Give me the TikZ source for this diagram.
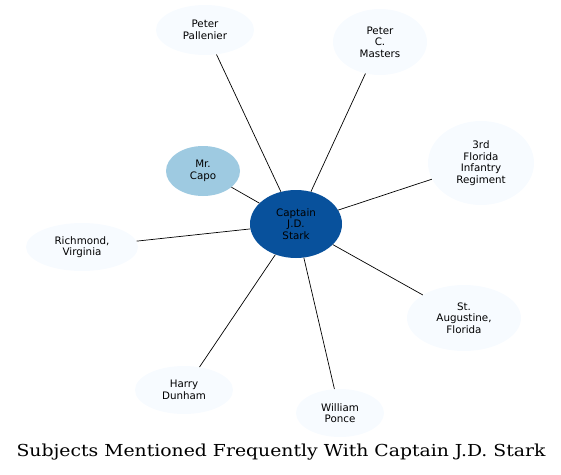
\documentclass[tikz,border=0pt]{standalone}
\usepackage{fontspec}
\setmainfont{DejaVu Sans}
\newfontfamily\titlefont{DejaVu Serif}
\usetikzlibrary{shapes.geometric}
\definecolor{pale}{HTML}{F7FBFF}
\definecolor{midblue}{HTML}{9ECAE1}
\definecolor{darkblue}{HTML}{08519C}
\tikzset{
  ent/.style={ellipse, fill=pale, inner sep=0pt, align=center, text=black,
    font=\fontsize{10.3}{11.6}\selectfont},
  link/.style={draw=black, line width=0.7pt}
}
\begin{document}
\begin{tikzpicture}[x=1pt,y=-1pt]
\useasboundingbox (0,0) rectangle (561,474);
\node[ent, fill=darkblue, minimum width=92pt, minimum height=68pt] (c) at (296,224) {Captain\\J.D.\\Stark};
\node[ent, minimum width=98pt, minimum height=50pt] (pp) at (205,30) {Peter\\Pallenier};
\node[ent, minimum width=94pt, minimum height=66pt] (pm) at (380,42) {Peter\\C.\\Masters};
\node[ent, minimum width=106pt, minimum height=84pt] (fl) at (481,163) {3rd\\Florida\\Infantry\\Regiment};
\node[ent, fill=midblue, minimum width=74pt, minimum height=50pt] (mc) at (203,171) {Mr.\\Capo};
\node[ent, minimum width=112pt, minimum height=48pt] (rv) at (82,247) {Richmond,\\Virginia};
\node[ent, minimum width=114pt, minimum height=66pt] (sa) at (464,318) {St.\\Augustine,\\Florida};
\node[ent, minimum width=98pt, minimum height=48pt] (hd) at (184,390) {Harry\\Dunham};
\node[ent, minimum width=88pt, minimum height=48pt] (wp) at (340,413) {William\\Ponce};
\foreach \n in {pp,pm,fl,mc,rv,sa,hd,wp} \draw[link] (c) -- (\n);
\node[font=\titlefont\fontsize{16.5}{18}\selectfont, xscale=1.14] (t) at (281,452) {Subjects Mentioned Frequently With Captain J.D. Stark};
\end{tikzpicture}
\end{document}
